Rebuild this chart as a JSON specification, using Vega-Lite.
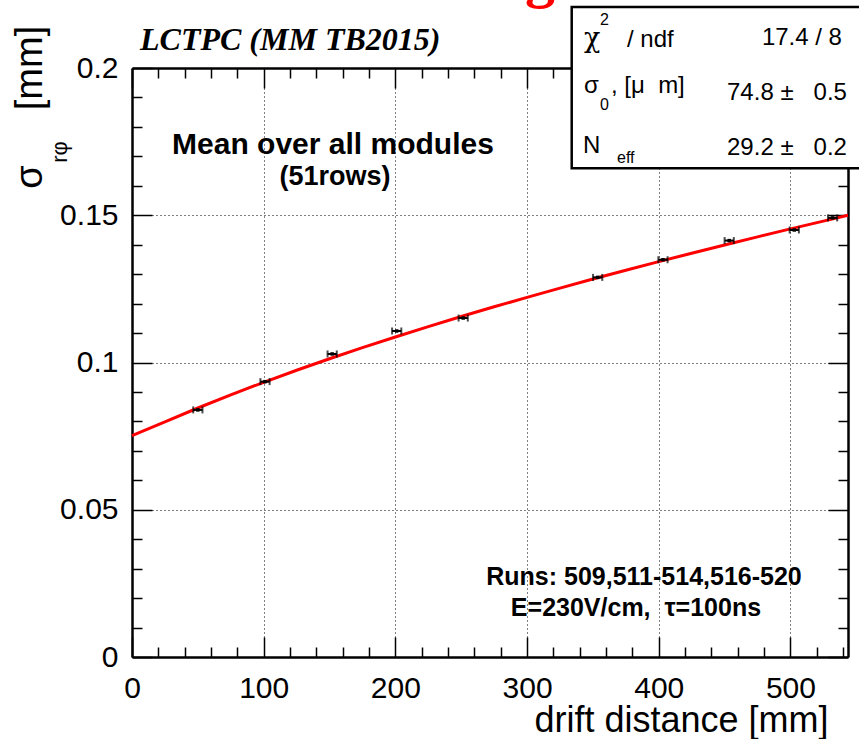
{
  "$schema": "https://vega.github.io/schema/vega-lite/v6.json",
  "width": 716,
  "height": 589,
  "autosize": {"type": "none"},
  "padding": {"left": 132, "top": 68, "right": 11, "bottom": 82},
  "background": "white",
  "config": {"view": {"stroke": null}, "font": "Liberation Sans"},
  "datasets": {
    "fit": [
      {"z": 0, "s": 0.0752}, {"z": 25, "s": 0.07982}, {"z": 50, "s": 0.08455}, {"z": 75, "s": 0.08902},
      {"z": 100, "s": 0.09328}, {"z": 125, "s": 0.09736}, {"z": 150, "s": 0.10127}, {"z": 175, "s": 0.10503},
      {"z": 200, "s": 0.10867}, {"z": 225, "s": 0.11219}, {"z": 250, "s": 0.1156}, {"z": 275, "s": 0.11891},
      {"z": 300, "s": 0.12213}, {"z": 325, "s": 0.12527}, {"z": 350, "s": 0.12834}, {"z": 375, "s": 0.13132},
      {"z": 400, "s": 0.13425}, {"z": 425, "s": 0.13711}, {"z": 450, "s": 0.13992}, {"z": 475, "s": 0.14266},
      {"z": 500, "s": 0.14536}, {"z": 525, "s": 0.14801}, {"z": 543.7, "s": 0.14999}
    ],
    "pts": [
      {"z": 50, "s": 0.0839, "zlo": 46.5, "zhi": 53.5},
      {"z": 101, "s": 0.0935, "zlo": 97.5, "zhi": 104.5},
      {"z": 152, "s": 0.1029, "zlo": 148.5, "zhi": 155.5},
      {"z": 201, "s": 0.1107, "zlo": 197.5, "zhi": 204.5},
      {"z": 251.5, "s": 0.1151, "zlo": 248, "zhi": 255},
      {"z": 353.6, "s": 0.1289, "zlo": 350.1, "zhi": 357.1},
      {"z": 403.2, "s": 0.1349, "zlo": 399.7, "zhi": 406.7},
      {"z": 453.5, "s": 0.1414, "zlo": 450, "zhi": 457},
      {"z": 502.9, "s": 0.145, "zlo": 499.4, "zhi": 506.4},
      {"z": 532, "s": 0.1491, "zlo": 528.5, "zhi": 535.5}
    ],
    "box": [{"x1": 333.9, "x2": 620, "y1": 0.166, "y2": 0.2207}],
    "redtitle": [{"t": "g", "x": 309.8, "y": 0.2245}],
    "header": [{"t": "LCTPC (MM TB2015)", "x": 6.1, "y": 0.2061}],
    "mean": [{"t": "Mean over all modules", "x": 152.6, "y": 0.1708}],
    "rows": [{"t": "(51rows)", "x": 154.1, "y": 0.1603}],
    "runs": [
      {"t": "Runs: 509,511-514,516-520", "x": 388.8, "y": 0.02445},
      {"t": "E=230V/cm,\u00a0\u00a0τ=100ns", "x": 382.7, "y": 0.01392}
    ],
    "ytitle": [
      {"t": "[mm]", "x": -76.7, "y": 0.2, "a": "right"},
      {"t": "σ", "x": -76.7, "y": 0.163, "a": "center"}
    ],
    "ysub": [{"t": "rφ", "x": -54.7, "y": 0.1715}],
    "statlab": [
      {"t": "/ ndf", "x": 375.9, "y": 0.2071},
      {"t": "σ", "x": 343.2, "y": 0.1915},
      {"t": ", [μ\u00a0\u00a0m]", "x": 363.7, "y": 0.1915},
      {"t": "N", "x": 342.5, "y": 0.1711}
    ],
    "statchi": [{"t": "χ", "x": 343.2, "y": 0.2071}],
    "statsub": [
      {"t": "2", "x": 355.4, "y": 0.2146},
      {"t": "0", "x": 355.4, "y": 0.1857},
      {"t": "eff", "x": 368.3, "y": 0.1677}
    ],
    "statval": [
      {"t": "17.4 / 8", "x": 539.1, "y": 0.2078},
      {"t": "74.8 ±\u00a0\u00a0\u00a00.5", "x": 542.9, "y": 0.1891},
      {"t": "29.2 ±\u00a0\u00a0\u00a00.2", "x": 542.9, "y": 0.1705}
    ]
  },
  "layer": [
    {
      "data": {"name": "fit"},
      "mark": {"type": "line", "color": "#ff0000", "strokeWidth": 3},
      "encoding": {
        "x": {
          "field": "z", "type": "quantitative",
          "scale": {"domain": [0, 543.7], "nice": false, "zero": false},
          "axis": {
            "orient": "bottom",
            "values": [0,20,40,60,80,100,120,140,160,180,200,220,240,260,280,300,320,340,360,380,400,420,440,460,480,500,520,540],
            "labelExpr": "datum.value % 100 === 0 ? format(datum.value, 'd') : ''",
            "tickSize": {"condition": {"test": "datum.value % 100 === 0", "value": -20}, "value": -10},
            "tickWidth": 1.5, "tickColor": "black",
            "domainColor": "black", "domainWidth": 2.5,
            "grid": true, "gridColor": "black", "gridDash": [1, 3], "gridWidth": 1,
            "gridOpacity": {"condition": {"test": "datum.value % 100 === 0 && datum.value > 0", "value": 1}, "value": 0},
            "labelFont": "Liberation Sans", "labelFontSize": 30, "labelColor": "black",
            "labelPadding": 36, "labelFlush": false, "labelOverlap": false,
            "title": "drift distance [mm]", "titleFont": "Liberation Sans", "titleFontSize": 36,
            "titleFontWeight": "normal", "titleColor": "black",
            "titleX": 696, "titleY": 74, "titleAlign": "right", "titleBaseline": "alphabetic"
          }
        },
        "y": {
          "field": "s", "type": "quantitative",
          "scale": {"domain": [0, 0.2], "nice": false, "zero": false},
          "axis": {
            "orient": "left",
            "values": [0,0.01,0.02,0.03,0.04,0.05,0.06,0.07,0.08,0.09,0.1,0.11,0.12,0.13,0.14,0.15,0.16,0.17,0.18,0.19,0.2],
            "labelExpr": "round(datum.value*100) % 5 === 0 ? format(datum.value, '~g') : ''",
            "tickSize": {"condition": {"test": "round(datum.value*100) % 5 === 0", "value": -20}, "value": -10},
            "tickWidth": 1.5, "tickColor": "black",
            "domainColor": "black", "domainWidth": 2.5,
            "grid": true, "gridColor": "black", "gridDash": [1, 3], "gridWidth": 1,
            "gridOpacity": {"condition": {"test": "round(datum.value*100) % 5 === 0 && datum.value > 0 && datum.value < 0.2", "value": 1}, "value": 0},
            "labelFont": "Liberation Sans", "labelFontSize": 30, "labelColor": "black",
            "labelPadding": 34, "labelFlush": false, "labelOverlap": false,
            "title": null
          }
        }
      }
    },
    {
      "data": {"name": "pts"},
      "mark": {"type": "rule", "color": "black", "strokeWidth": 2},
      "encoding": {
        "x": {"field": "zlo", "type": "quantitative", "axis": null},
        "x2": {"field": "zhi"},
        "y": {"field": "s", "type": "quantitative", "axis": null}
      }
    },
    {
      "data": {"name": "pts"},
      "mark": {"type": "tick", "orient": "vertical", "color": "black", "size": 7, "thickness": 2},
      "encoding": {
        "x": {"field": "zlo", "type": "quantitative", "axis": null},
        "y": {"field": "s", "type": "quantitative", "axis": null}
      }
    },
    {
      "data": {"name": "pts"},
      "mark": {"type": "tick", "orient": "vertical", "color": "black", "size": 7, "thickness": 2},
      "encoding": {
        "x": {"field": "zhi", "type": "quantitative", "axis": null},
        "y": {"field": "s", "type": "quantitative", "axis": null}
      }
    },
    {
      "data": {"name": "pts"},
      "mark": {"type": "point", "shape": "square", "filled": true, "color": "black", "size": 12, "opacity": 1},
      "encoding": {
        "x": {
          "field": "z", "type": "quantitative",
          "axis": {
            "orient": "top",
            "values": [0,20,40,60,80,100,120,140,160,180,200,220,240,260,280,300,320,340,360,380,400,420,440,460,480,500,520,540],
            "labels": false, "title": null, "grid": false,
            "tickSize": {"condition": {"test": "datum.value % 100 === 0", "value": -20}, "value": -10},
            "tickWidth": 1.5, "tickColor": "black",
            "domainColor": "black", "domainWidth": 2.5
          }
        },
        "y": {
          "field": "s", "type": "quantitative",
          "axis": {
            "orient": "right",
            "values": [0,0.01,0.02,0.03,0.04,0.05,0.06,0.07,0.08,0.09,0.1,0.11,0.12,0.13,0.14,0.15,0.16,0.17,0.18,0.19,0.2],
            "labels": false, "title": null, "grid": false,
            "tickSize": {"condition": {"test": "round(datum.value*100) % 5 === 0", "value": -20}, "value": -10},
            "tickWidth": 1.5, "tickColor": "black",
            "domainColor": "black", "domainWidth": 2.5
          }
        }
      }
    },
    {
      "data": {"name": "redtitle"},
      "mark": {"type": "text", "align": "center", "baseline": "alphabetic", "font": "Liberation Serif", "fontSize": 60, "fontWeight": "bold", "color": "#ff0000"},
      "encoding": {
        "x": {"field": "x", "type": "quantitative", "axis": null},
        "y": {"field": "y", "type": "quantitative", "axis": null},
        "text": {"field": "t"}
      }
    },
    {
      "data": {"name": "header"},
      "mark": {"type": "text", "align": "left", "baseline": "alphabetic", "font": "Liberation Serif", "fontSize": 32, "fontWeight": "bold", "fontStyle": "italic", "color": "black"},
      "encoding": {
        "x": {"field": "x", "type": "quantitative", "axis": null},
        "y": {"field": "y", "type": "quantitative", "axis": null},
        "text": {"field": "t"}
      }
    },
    {
      "data": {"name": "mean"},
      "mark": {"type": "text", "align": "center", "baseline": "alphabetic", "font": "Liberation Sans", "fontSize": 30, "fontWeight": "bold", "color": "black"},
      "encoding": {
        "x": {"field": "x", "type": "quantitative", "axis": null},
        "y": {"field": "y", "type": "quantitative", "axis": null},
        "text": {"field": "t"}
      }
    },
    {
      "data": {"name": "rows"},
      "mark": {"type": "text", "align": "center", "baseline": "alphabetic", "font": "Liberation Sans", "fontSize": 27, "fontWeight": "bold", "color": "black"},
      "encoding": {
        "x": {"field": "x", "type": "quantitative", "axis": null},
        "y": {"field": "y", "type": "quantitative", "axis": null},
        "text": {"field": "t"}
      }
    },
    {
      "data": {"name": "runs"},
      "mark": {"type": "text", "align": "center", "baseline": "alphabetic", "font": "Liberation Sans", "fontSize": 25, "fontWeight": "bold", "color": "black"},
      "encoding": {
        "x": {"field": "x", "type": "quantitative", "axis": null},
        "y": {"field": "y", "type": "quantitative", "axis": null},
        "text": {"field": "t"}
      }
    },
    {
      "data": {"name": "ytitle"},
      "mark": {"type": "text", "baseline": "middle", "angle": 270, "font": "Liberation Sans", "fontSize": 38, "color": "black"},
      "encoding": {
        "x": {"field": "x", "type": "quantitative", "axis": null},
        "y": {"field": "y", "type": "quantitative", "axis": null},
        "text": {"field": "t"},
        "align": {"field": "a", "type": "nominal", "scale": null}
      }
    },
    {
      "data": {"name": "ysub"},
      "mark": {"type": "text", "align": "center", "baseline": "middle", "angle": 270, "font": "Liberation Sans", "fontSize": 22, "color": "black"},
      "encoding": {
        "x": {"field": "x", "type": "quantitative", "axis": null},
        "y": {"field": "y", "type": "quantitative", "axis": null},
        "text": {"field": "t"}
      }
    },
    {
      "data": {"name": "box"},
      "mark": {"type": "rect", "fill": "white", "stroke": "black", "strokeWidth": 2.5},
      "encoding": {
        "x": {"field": "x1", "type": "quantitative", "axis": null},
        "x2": {"field": "x2"},
        "y": {"field": "y1", "type": "quantitative", "axis": null},
        "y2": {"field": "y2"}
      }
    },
    {
      "data": {"name": "statlab"},
      "mark": {"type": "text", "align": "left", "baseline": "alphabetic", "font": "Liberation Sans", "fontSize": 24, "color": "black"},
      "encoding": {
        "x": {"field": "x", "type": "quantitative", "axis": null},
        "y": {"field": "y", "type": "quantitative", "axis": null},
        "text": {"field": "t"}
      }
    },
    {
      "data": {"name": "statchi"},
      "mark": {"type": "text", "align": "left", "baseline": "alphabetic", "font": "DejaVu Serif", "fontSize": 27, "color": "black"},
      "encoding": {
        "x": {"field": "x", "type": "quantitative", "axis": null},
        "y": {"field": "y", "type": "quantitative", "axis": null},
        "text": {"field": "t"}
      }
    },
    {
      "data": {"name": "statsub"},
      "mark": {"type": "text", "align": "left", "baseline": "alphabetic", "font": "Liberation Sans", "fontSize": 16, "color": "black"},
      "encoding": {
        "x": {"field": "x", "type": "quantitative", "axis": null},
        "y": {"field": "y", "type": "quantitative", "axis": null},
        "text": {"field": "t"}
      }
    },
    {
      "data": {"name": "statval"},
      "mark": {"type": "text", "align": "right", "baseline": "alphabetic", "font": "Liberation Sans", "fontSize": 24, "color": "black"},
      "encoding": {
        "x": {"field": "x", "type": "quantitative", "axis": null},
        "y": {"field": "y", "type": "quantitative", "axis": null},
        "text": {"field": "t"}
      }
    }
  ],
  "resolve": {"axis": {"x": "independent", "y": "independent"}}
}
